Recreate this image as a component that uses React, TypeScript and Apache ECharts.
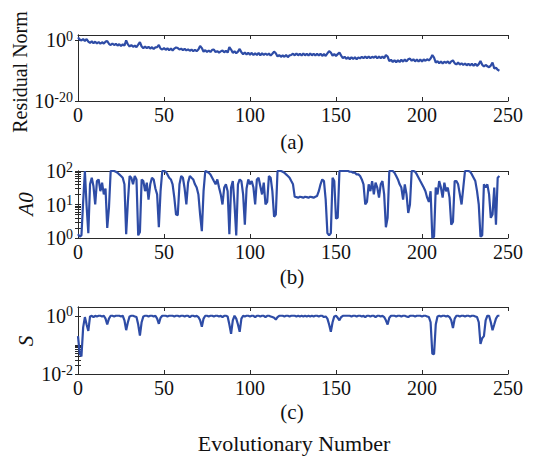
import React, { useEffect, useRef } from 'react';
import * as echarts from 'echarts';

const X_TICKS = [0, 50, 100, 150, 200, 250];

const RESIDUAL = [
  1e1, 2, 1, 3, 0.6, 3, 0.4, 0.15, 0.5, 0.12,
  0.4, 0.1, 0.3, 0.08, 0.25, 0.1, 0.4, 0.6, 0.08, 0.03,
  0.1, 0.03, 0.08, 0.02, 0.06, 0.015, 0.05, 0.02, 1, 0.05,
  0.01, 0.03, 0.008, 0.02, 0.006, 0.04, 0.3, 0.01, 3e-3, 1e-2,
  3e-3, 8e-3, 2e-3, 6e-3, 1.5e-3, 5e-3, 6e-3, 3e-2, 2e-3, 1e-3,
  3e-3, 8e-4, 2.5e-3, 6e-4, 2e-3, 5e-4, 2e-3, 5e-3, 3e-3, 1e-3,
  2e-3, 6e-4, 1.6e-3, 5e-4, 1.2e-3, 4e-4, 1e-3, 3e-4, 8e-4, 3e-4,
  1e-3, 1.6e-2, 3e-3, 2e-4, 6e-4, 1.5e-4, 5e-4, 1.5e-4, 8e-4, 1e-3,
  1.5e-4, 3e-4, 1e-4, 2.5e-4, 5e-4, 1.2e-4, 4e-4, 1e-4, 6e-3, 1e-3,
  8e-5, 2.5e-4, 6e-5, 2e-4, 1.6e-3, 1.2e-4, 3e-5, 1e-4, 2.5e-5, 8e-5,
  2e-5, 8e-5, 1.5e-5, 6e-5, 1.5e-5, 8e-5, 1.2e-5, 6e-5, 1.5e-5, 5e-5,
  1.5e-5, 5e-5, 1e-5, 4e-5, 2e-4, 6e-5, 5e-6, 1.5e-5, 4e-6, 1.2e-5,
  4e-6, 1.5e-5, 3e-6, 1.2e-5, 1.6e-5, 4e-5, 1.2e-5, 5e-5, 1.2e-5, 4e-5,
  1e-5, 5e-5, 1.2e-5, 4e-5, 1e-5, 5e-5, 1.2e-5, 4e-5, 1e-5, 4e-5,
  1e-5, 4e-5, 8e-6, 3e-5, 8e-6, 5e-5, 3e-4, 1e-4, 1e-5, 3e-5,
  8e-6, 3e-5, 1e-4, 1e-5, 1.5e-6, 4e-6, 8e-7, 3e-6, 6e-7, 3e-6,
  8e-7, 3e-6, 6e-7, 2.5e-6, 1.2e-6, 4e-6, 1.5e-6, 5e-6, 1.5e-6, 5e-6,
  1.5e-6, 4e-6, 2e-6, 6e-6, 1.2e-6, 5e-6, 1.5e-6, 5e-6, 1.2e-6, 1.6e-5,
  5e-6, 1.5e-7, 4e-7, 8e-8, 3e-7, 6e-8, 3e-7, 8e-8, 4e-7, 1e-7,
  5e-7, 1.2e-7, 6e-7, 1e-6, 2e-7, 6e-7, 1.2e-7, 5e-7, 1e-7, 5e-7,
  1.2e-7, 5e-7, 2e-7, 6e-7, 2.5e-7, 1e-6, 1.6e-5, 2e-6, 5e-8, 1.5e-7,
  3e-8, 1.2e-7, 2.5e-8, 1e-7, 4e-8, 1.2e-7, 2.5e-8, 1.2e-7, 2.5e-7, 3e-8,
  1.2e-8, 5e-8, 1e-8, 3e-8, 8e-9, 2.5e-8, 6e-9, 2e-8, 6e-9, 2e-8,
  4e-9, 2e-8, 4e-9, 1.5e-8, 1.6e-7, 1e-8, 2.5e-9, 8e-9, 3e-9, 1.5e-9,
  5e-9, 5e-8, 6e-10, 1e-9, 2e-10, 1e-10,
];

const A0 = [
  1.3, 1.1, 1.2, 12, 100, 9, 1.4, 40, 63, 35,
  10, 50, 56, 25, 45, 20, 30, 2, 8, 100,
  100, 100, 95, 89, 79, 71, 63, 40, 1.3, 12,
  71, 63, 40, 71, 56, 1.2, 1.5, 56, 50, 25,
  45, 14, 40, 63, 56, 30, 20, 2.1, 25, 100,
  100, 95, 79, 63, 56, 40, 16, 5, 4.8, 40,
  71, 63, 30, 10, 45, 71, 63, 56, 40, 32,
  20, 5, 1.6, 25, 100, 95, 89, 79, 63, 50,
  40, 56, 32, 20, 10, 32, 40, 25, 1.3, 32,
  50, 10, 1.2, 40, 56, 50, 20, 2.5, 30, 56,
  40, 50, 32, 10, 56, 63, 35, 20, 45, 10,
  12, 71, 63, 25, 4.3, 5, 100, 100, 100, 95,
  89, 79, 71, 63, 50, 40, 17, 16.6, 16, 17,
  16.6, 16, 17, 16.6, 16, 17, 16.6, 16, 17, 18,
  25, 40, 56, 50, 14, 1.4, 1.2, 1.4, 63, 50,
  3.8, 4, 100, 100, 100, 100, 100, 100, 95, 95,
  89, 89, 79, 79, 71, 56, 40, 10, 12, 40,
  25, 50, 20, 45, 32, 16, 40, 50, 20, 2.1,
  4, 100, 100, 100, 89, 71, 56, 40, 32, 14,
  40, 20, 5.6, 10, 100, 100, 95, 79, 63, 50,
  40, 32, 25, 16, 12, 25, 1, 1.1, 32, 20,
  50, 32, 16, 45, 25, 32, 16, 2.5, 3, 50,
  50, 40, 20, 10, 32, 100, 100, 100, 95, 79,
  63, 50, 25, 10, 1.1, 1.2, 40, 32, 40, 20,
  4, 5, 32, 2.5, 63, 71,
];

const S = [
  0.2, 0.05, 0.04, 0.4, 0.9, 0.5, 0.3, 0.95, 1, 0.9,
  1, 0.95, 1, 1, 0.95, 1, 0.8, 0.5, 0.8, 1,
  1, 0.95, 1, 1, 1, 0.95, 1, 0.7, 0.32, 0.6,
  0.95, 1, 1, 0.95, 0.9, 0.5, 0.21, 0.6, 0.95, 1,
  1, 0.95, 1, 1, 0.95, 1, 0.8, 0.53, 0.85, 1,
  1, 1, 0.95, 1, 1, 1, 0.95, 1, 1, 0.95,
  1, 1, 0.95, 1, 1, 0.9, 1, 1, 0.95, 1,
  0.9, 0.7, 0.42, 0.8, 1, 1, 0.95, 1, 1, 0.95,
  1, 1, 0.95, 1, 0.9, 1, 1, 0.95, 0.5, 0.24,
  0.7, 1, 0.8, 0.5, 0.28, 0.8, 1, 0.95, 1, 1,
  0.95, 1, 1, 0.9, 1, 1, 0.95, 1, 1, 0.9,
  1, 1, 0.95, 0.9, 0.85, 0.74, 0.9, 1, 1, 1,
  0.95, 1, 1, 0.95, 1, 1, 1, 0.95, 1, 0.95,
  1, 0.95, 1, 0.95, 1, 0.95, 1, 0.95, 1, 1,
  0.95, 1, 1, 0.9, 0.95, 0.8, 0.5, 0.28, 0.6, 0.95,
  1, 0.85, 0.7, 0.9, 1, 1, 1, 1, 1, 0.95,
  1, 1, 0.95, 1, 1, 0.95, 1, 0.9, 1, 1,
  0.95, 1, 1, 0.9, 1, 1, 0.95, 1, 0.9, 0.7,
  0.5, 0.85, 1, 1, 1, 0.95, 1, 1, 0.95, 1,
  1, 0.95, 0.9, 1, 1, 1, 0.95, 1, 1, 1,
  0.95, 1, 1, 0.95, 0.9, 0.6, 0.05, 0.048, 0.5, 0.95,
  1, 0.95, 1, 1, 0.95, 1, 0.9, 0.7, 0.38, 0.8,
  1, 1, 0.95, 1, 1, 0.95, 1, 1, 0.95, 1,
  1, 0.95, 0.9, 0.6, 0.107, 0.17, 0.2, 0.7, 1, 1,
  0.6, 0.32, 0.5, 0.8, 1, 1,
];

const RES_LABELS = [1e-20, 1];
const RES_TICKS = [1e-20, 1];
const A0_LABELS = [1, 10, 100];
const A0_TICKS = [1, 2, 3, 4, 5, 6, 7, 8, 9, 10, 20, 30, 40, 50, 60, 70, 80, 90, 100];
const S_LABELS = [0.01, 1];
const S_TICKS = [0.01, 0.02, 0.03, 0.04, 0.05, 0.06, 0.07, 0.08, 0.09, 0.1, 1];

const FONT = "'Liberation Serif', 'Times New Roman', serif";
const INK = '#111111';
const FRAME = '#2a2a2a';
const BLUE = '#2e4ca6';

const PANELS = [
  { top: 35, height: 66, min: 1e-20, max: 63, labels: RES_LABELS, ticks: RES_TICKS, data: RESIDUAL },
  { top: 171, height: 67, min: 1, max: 100, labels: A0_LABELS, ticks: A0_TICKS, data: A0 },
  { top: 307, height: 67, min: 0.01, max: 2, labels: S_LABELS, ticks: S_TICKS, data: S },
];

function powLabel(v: number) {
  const e = Math.round(Math.log10(v));
  return `{b|10}{s|${e}}`;
}

export default function App() {
  const ref = useRef<HTMLDivElement>(null);
  useEffect(() => {
    if (!ref.current) return;
    const chart = echarts.init(ref.current, undefined, { renderer: 'svg' });
    const grids: any[] = [];
    const xAxes: any[] = [];
    const yAxes: any[] = [];
    const series: any[] = [];
    PANELS.forEach((p, i) => {
      grids.push({ left: 78, top: p.top, width: 430, height: p.height, containLabel: false, outerBoundsMode: 'none' });
      const xBase = {
        type: 'value', gridIndex: i, min: 0, max: 250, interval: 50,
        splitLine: { show: false },
        axisLine: { show: true, lineStyle: { color: FRAME, width: 1 } },
        axisTick: { show: true, inside: true, length: 4, lineStyle: { color: FRAME } },
      };
      xAxes.push({
        ...xBase, position: 'bottom',
        axisLabel: {
          show: true, margin: 4, fontSize: 20, fontFamily: FONT, color: INK,
          customValues: X_TICKS,
        },
      });
      xAxes.push({ ...xBase, position: 'top', axisLabel: { show: false } });
      const yBase = {
        type: 'log', logBase: 10, gridIndex: i, min: p.min, max: p.max,
        splitLine: { show: false },
        axisLine: { show: true, lineStyle: { color: FRAME, width: 1 } },
        axisTick: { show: true, inside: true, length: 3, customValues: p.ticks, lineStyle: { color: FRAME } },
        minorTick: { show: false },
      };
      yAxes.push({
        ...yBase, position: 'left',
        axisLabel: {
          show: true, margin: 5, customValues: p.labels,
          formatter: (v: number) => powLabel(v),
          rich: {
            b: { fontSize: 20, fontFamily: FONT, color: INK, lineHeight: 22 },
            s: { fontSize: 14, fontFamily: FONT, color: INK, verticalAlign: 'top', lineHeight: 13 },
          },
        },
      });
      yAxes.push({ ...yBase, position: 'right', axisLabel: { show: false } });
      series.push({
        type: 'line', xAxisIndex: i * 2, yAxisIndex: i * 2,
        data: p.data.map((v, k) => [k, v]),
        showSymbol: false, symbol: 'none',
        lineStyle: { color: BLUE, width: 2.2 },
        itemStyle: { color: BLUE },
        silent: true,
      });
    });
    const txt = (text: string, x: number, y: number, extra: any = {}) => ({
      type: 'text', x, y, rotation: extra.rotation || 0,
      style: {
        text, fontSize: extra.fontSize || 21, fontFamily: FONT, fontStyle: extra.italic ? 'italic' : 'normal',
        fill: INK, align: 'center', verticalAlign: 'middle',
      },
    });
    chart.setOption({
      animation: false,
      backgroundColor: '#ffffff',
      grid: grids,
      xAxis: xAxes,
      yAxis: yAxes,
      series,
      graphic: [
        txt('Residual Norm', 20, 72, { rotation: Math.PI / 2, fontSize: 20 }),
        txt('A0', 26, 204, { rotation: Math.PI / 2, italic: true, fontSize: 21 }),
        txt('S', 26, 341, { rotation: Math.PI / 2, italic: true, fontSize: 21 }),
        txt('(a)', 292, 142),
        txt('(b)', 292, 277),
        txt('(c)', 292, 412),
        txt('Evolutionary Number', 294, 443, { fontSize: 22 }),
      ],
    });
    return () => chart.dispose();
  }, []);
  return <div ref={ref} style={{ position: 'fixed', left: 0, top: 0, width: 540, height: 459 }} />;
}
